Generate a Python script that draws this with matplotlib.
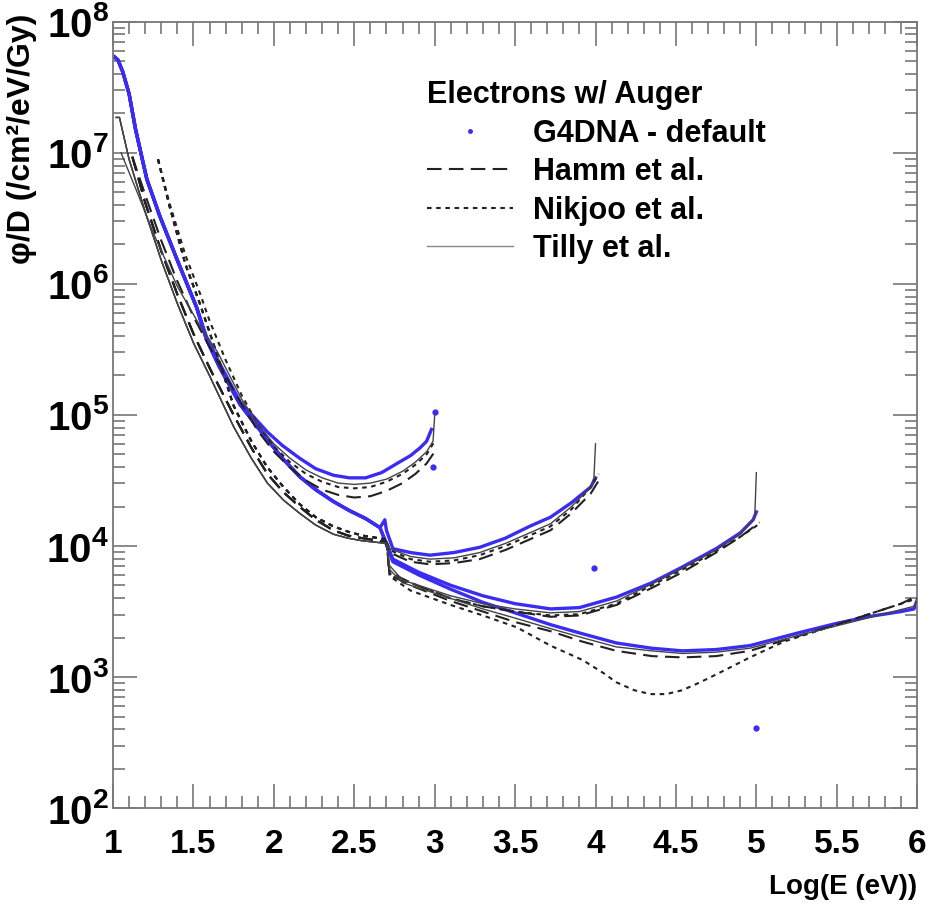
import numpy as np
import matplotlib.pyplot as plt
from matplotlib.lines import Line2D
from matplotlib.ticker import MultipleLocator, LogLocator, NullFormatter, FixedLocator, FixedFormatter

plt.rcParams['font.family'] = ['Liberation Sans', 'DejaVu Sans']
plt.rcParams['font.weight'] = 'bold'
plt.rcParams['mathtext.fontset'] = 'custom'
plt.rcParams['mathtext.bf'] = 'Liberation Sans:bold'
plt.rcParams['mathtext.rm'] = 'Liberation Sans:bold'

# all y values are log10(phi/D), x is log10(E/eV)

# ---- G4DNA default (blue points) ----
g4_1k_x = [1.00, 1.03, 1.06, 1.10, 1.14, 1.21, 1.29, 1.40, 1.52, 1.58, 1.66, 1.79, 1.96, 2.05, 2.16, 2.26, 2.37, 2.47, 2.57, 2.67, 2.78, 2.85, 2.91, 2.95, 2.98]
g4_1k_y = [7.74, 7.71, 7.62, 7.45, 7.18, 6.80, 6.52, 6.18, 5.82, 5.60, 5.40, 5.10, 4.87, 4.77, 4.67, 4.59, 4.54, 4.52, 4.52, 4.56, 4.64, 4.69, 4.75, 4.80, 4.89]
g4_low_x = [1.00, 1.03, 1.06, 1.10, 1.14, 1.21, 1.29, 1.40, 1.52, 1.58, 1.66, 1.79, 1.96, 2.06, 2.16, 2.26, 2.37, 2.47, 2.57, 2.66]
g4_low_y = [7.74, 7.71, 7.62, 7.45, 7.18, 6.80, 6.52, 6.18, 5.82, 5.58, 5.37, 5.08, 4.81, 4.66, 4.53, 4.43, 4.34, 4.27, 4.21, 4.14]
g4_10k_x = [2.69, 2.70, 2.74, 2.85, 2.97, 3.12, 3.28, 3.44, 3.59, 3.72, 3.85, 3.97, 4.00]
g4_10k_y = [4.20, 4.12, 3.98, 3.95, 3.93, 3.95, 3.99, 4.06, 4.15, 4.22, 4.33, 4.45, 4.52]
g4_100k_x = [2.74, 2.90, 3.10, 3.30, 3.50, 3.72, 3.90, 4.13, 4.35, 4.54, 4.75, 4.90, 4.98, 5.00]
g4_100k_y = [3.90, 3.80, 3.70, 3.62, 3.56, 3.52, 3.53, 3.61, 3.72, 3.84, 3.98, 4.10, 4.20, 4.26]
g4_1M_x = [2.74, 2.90, 3.10, 3.30, 3.50, 3.72, 3.92, 4.13, 4.35, 4.54, 4.75, 4.96, 5.27, 5.50, 5.69, 5.90, 5.98, 6.00]
g4_1M_y = [3.88, 3.78, 3.67, 3.57, 3.49, 3.40, 3.33, 3.26, 3.22, 3.20, 3.21, 3.24, 3.34, 3.41, 3.46, 3.50, 3.52, 3.59]
g4_stray_x = [3.00, 2.99, 3.99, 5.00]
g4_stray_y = [5.02, 4.60, 3.83, 2.61]

# ---- Hamm et al. (long dash) ----
hamm_1k_x = [1.12, 1.20, 1.30, 1.40, 1.50, 1.60, 1.70, 1.80, 1.90, 2.00, 2.10, 2.20, 2.30, 2.40, 2.50, 2.60, 2.70, 2.80, 2.88, 2.95, 3.00]
hamm_1k_y = [6.97, 6.68, 6.33, 6.02, 5.75, 5.52, 5.30, 5.08, 4.88, 4.72, 4.60, 4.50, 4.43, 4.39, 4.37, 4.38, 4.42, 4.48, 4.55, 4.63, 4.72]
hamm_low_x = [1.12, 1.20, 1.30, 1.40, 1.50, 1.60, 1.75, 1.86, 1.96, 2.06, 2.16, 2.26, 2.37, 2.46, 2.55, 2.70]
hamm_low_y = [6.97, 6.62, 6.25, 5.92, 5.62, 5.36, 5.00, 4.75, 4.55, 4.41, 4.30, 4.20, 4.12, 4.08, 4.06, 4.03]
hamm_10k_x = [2.72, 2.85, 2.97, 3.12, 3.28, 3.44, 3.59, 3.72, 3.85, 3.97, 4.02]
hamm_10k_y = [3.95, 3.88, 3.86, 3.87, 3.90, 3.97, 4.05, 4.12, 4.25, 4.40, 4.50]
hamm_100k_x = [2.72, 2.85, 3.10, 3.30, 3.50, 3.72, 3.90, 4.13, 4.35, 4.54, 4.75, 4.90, 5.02]
hamm_100k_y = [3.80, 3.72, 3.60, 3.54, 3.50, 3.46, 3.47, 3.55, 3.68, 3.80, 3.95, 4.07, 4.18]
hamm_1M_x = [2.72, 2.85, 3.10, 3.30, 3.50, 3.72, 3.92, 4.13, 4.35, 4.54, 4.75, 4.96, 5.17, 5.50, 5.75, 5.90, 6.00]
hamm_1M_y = [3.78, 3.70, 3.58, 3.50, 3.42, 3.35, 3.27, 3.20, 3.16, 3.15, 3.16, 3.20, 3.28, 3.40, 3.50, 3.56, 3.62]

# ---- Nikjoo et al. (short dash) ----
nik_1k_x = [1.28, 1.35, 1.45, 1.54, 1.60, 1.70, 1.80, 1.90, 2.00, 2.10, 2.20, 2.30, 2.40, 2.50, 2.60, 2.70, 2.80, 2.88, 2.95, 3.00]
nik_1k_y = [6.95, 6.62, 6.22, 5.93, 5.72, 5.42, 5.15, 4.93, 4.76, 4.64, 4.55, 4.49, 4.45, 4.44, 4.45, 4.49, 4.55, 4.62, 4.70, 4.80]
nik_low_x = [1.28, 1.35, 1.45, 1.54, 1.65, 1.75, 1.86, 1.96, 2.06, 2.16, 2.26, 2.37, 2.46, 2.55, 2.70]
nik_low_y = [6.95, 6.60, 6.15, 5.85, 5.45, 5.07, 4.80, 4.60, 4.45, 4.32, 4.22, 4.15, 4.11, 4.08, 4.05]
nik_10k_x = [2.72, 2.85, 2.97, 3.12, 3.28, 3.44, 3.59, 3.72, 3.85, 3.97, 4.02]
nik_10k_y = [3.97, 3.90, 3.88, 3.89, 3.93, 4.00, 4.08, 4.15, 4.28, 4.45, 4.55]
nik_100k_x = [2.72, 2.85, 3.10, 3.30, 3.50, 3.72, 3.90, 4.13, 4.35, 4.54, 4.75, 4.90, 5.02]
nik_100k_y = [3.79, 3.72, 3.60, 3.54, 3.50, 3.47, 3.48, 3.56, 3.70, 3.82, 3.96, 4.07, 4.17]
nik_1M_x = [2.72, 2.85, 3.10, 3.30, 3.51, 3.72, 3.92, 4.05, 4.13, 4.24, 4.34, 4.44, 4.54, 4.65, 4.75, 4.96, 5.17, 5.50, 5.75, 6.00]
nik_1M_y = [3.77, 3.66, 3.55, 3.47, 3.38, 3.24, 3.13, 3.03, 2.96, 2.90, 2.87, 2.87, 2.90, 2.96, 3.02, 3.15, 3.27, 3.40, 3.50, 3.60]

# ---- Tilly et al. (thin solid) ----
tilly_1k_x = [1.05, 1.15, 1.25, 1.40, 1.55, 1.65, 1.80, 1.90, 2.00, 2.10, 2.20, 2.30, 2.40, 2.50, 2.60, 2.70, 2.80, 2.88, 2.95, 2.99, 3.00]
tilly_1k_y = [7.00, 6.70, 6.39, 5.98, 5.66, 5.48, 5.12, 4.93, 4.78, 4.67, 4.58, 4.52, 4.48, 4.47, 4.48, 4.51, 4.57, 4.64, 4.72, 4.80, 5.00]
tilly_low_x = [1.02, 1.04, 1.10, 1.20, 1.30, 1.40, 1.50, 1.60, 1.75, 1.86, 1.96, 2.06, 2.16, 2.26, 2.37, 2.46, 2.55, 2.70]
tilly_low_y = [7.27, 7.27, 6.95, 6.55, 6.18, 5.85, 5.55, 5.30, 4.91, 4.67, 4.48, 4.35, 4.25, 4.16, 4.09, 4.06, 4.04, 4.02]
tilly_10k_x = [2.72, 2.85, 2.97, 3.12, 3.28, 3.44, 3.59, 3.72, 3.85, 3.97, 3.99, 4.00]
tilly_10k_y = [3.98, 3.92, 3.90, 3.91, 3.95, 4.02, 4.10, 4.17, 4.30, 4.45, 4.52, 4.78]
tilly_100k_x = [2.72, 2.80, 3.10, 3.30, 3.50, 3.72, 3.90, 4.13, 4.35, 4.54, 4.75, 4.90, 4.99, 5.00]
tilly_100k_y = [3.85, 3.74, 3.62, 3.56, 3.52, 3.49, 3.50, 3.58, 3.71, 3.83, 3.97, 4.09, 4.22, 4.56]
tilly_1M_x = [2.72, 2.80, 3.10, 3.30, 3.50, 3.72, 3.92, 4.13, 4.35, 4.54, 4.75, 4.96, 5.27, 5.69, 5.98, 6.00]
tilly_1M_y = [3.82, 3.72, 3.60, 3.52, 3.45, 3.37, 3.30, 3.23, 3.20, 3.18, 3.19, 3.22, 3.32, 3.45, 3.54, 3.58]

blue = '#3a2cf0'

fig = plt.figure(figsize=(9.34, 9.07), dpi=100)
ax = fig.add_axes([0.121, 0.109, 0.861, 0.867])


def draw(xs, ys, **kw):
    ax.plot(xs, 10 ** np.array(ys), **kw)


black_sets = [
    ((hamm_1k_x, hamm_1k_y), (hamm_low_x + hamm_10k_x, hamm_low_y + hamm_10k_y),
     (hamm_low_x + hamm_100k_x, hamm_low_y + hamm_100k_y), (hamm_low_x + hamm_1M_x, hamm_low_y + hamm_1M_y)),
    ((nik_1k_x, nik_1k_y), (nik_low_x + nik_10k_x, nik_low_y + nik_10k_y),
     (nik_low_x + nik_100k_x, nik_low_y + nik_100k_y), (nik_low_x + nik_1M_x, nik_low_y + nik_1M_y)),
    ((tilly_1k_x, tilly_1k_y), (tilly_low_x + tilly_10k_x, tilly_low_y + tilly_10k_y),
     (tilly_low_x + tilly_100k_x, tilly_low_y + tilly_100k_y), (tilly_low_x + tilly_1M_x, tilly_low_y + tilly_1M_y)),
]
styles = [
    dict(color='#222222', lw=1.5, dashes=(7, 3.5)),
    dict(color='#222222', lw=1.5, dashes=(2.2, 2.2)),
    dict(color='#444444', lw=1.0),
]
for curves, st in zip(black_sets, styles):
    for cx, cy in curves:
        draw(cx, cy, zorder=3, **st)

for cx, cy in [(g4_1k_x, g4_1k_y), (g4_low_x + g4_10k_x, g4_low_y + g4_10k_y),
               (g4_low_x + g4_100k_x, g4_low_y + g4_100k_y), (g4_low_x + g4_1M_x, g4_low_y + g4_1M_y)]:
    draw(cx, cy, color=blue, lw=2.4, zorder=2)
draw(g4_stray_x, g4_stray_y, color=blue, ls='none', marker='o', ms=3.5, zorder=2)

ax.set_xlim(1, 6)
ax.set_yscale('log')
ax.set_ylim(1e2, 1e8)

xt = [1, 1.5, 2, 2.5, 3, 3.5, 4, 4.5, 5, 5.5, 6]
ax.xaxis.set_major_locator(FixedLocator(xt))
ax.xaxis.set_major_formatter(FixedFormatter(['1', '1.5', '2', '2.5', '3', '3.5', '4', '4.5', '5', '5.5', '6']))
ax.xaxis.set_minor_locator(MultipleLocator(0.1))
yt = [1e2, 1e3, 1e4, 1e5, 1e6, 1e7, 1e8]
ax.yaxis.set_major_locator(FixedLocator(yt))
ax.yaxis.set_minor_locator(LogLocator(base=10, subs=np.arange(2, 10), numticks=20))
ax.yaxis.set_minor_formatter(NullFormatter())
ax.set_yticklabels([r'$\mathbf{10^{%d}}$' % p for p in range(2, 9)], fontsize=29)

ax.tick_params(which='both', direction='in', top=True, right=True, color='#777777', width=1.2)
ax.tick_params(which='major', length=17)
ax.tick_params(which='minor', length=8.5)
ax.tick_params(axis='x', labelsize=24, pad=15)
ax.tick_params(axis='y', pad=3)
for s in ax.spines.values():
    s.set_color('#777777')
    s.set_linewidth(1.3)

fig.text(0.982, 0.008, 'Log(E (eV))', ha='right', va='bottom', fontsize=20, fontweight='bold')
fig.text(0.008, 0.985, 'φ/D (/cm²/eV/Gy)', ha='left', va='top', rotation=90, fontsize=23, fontweight='bold')

handles = [
    Line2D([], [], color=blue, ls='none', marker='o', ms=2.5),
    Line2D([], [], color='#222222', lw=1.5, dashes=(7, 3.5)),
    Line2D([], [], color='#222222', lw=1.5, dashes=(2.2, 2.2)),
    Line2D([], [], color='#888888', lw=1.0),
]
labels = ['G4DNA - default', 'Hamm et al.', 'Nikjoo et al.', 'Tilly et al.']
leg = ax.legend(handles, labels, title='Electrons w/ Auger', loc='upper left',
                bbox_to_anchor=(0.391, 0.926), frameon=False, fontsize=22,
                title_fontproperties={'weight': 'bold', 'size': 22},
                handlelength=2.8, handletextpad=0.65, labelspacing=0.28,
                alignment='left', borderpad=0, borderaxespad=0)

fig.savefig('out.png', dpi=100, facecolor='white')
